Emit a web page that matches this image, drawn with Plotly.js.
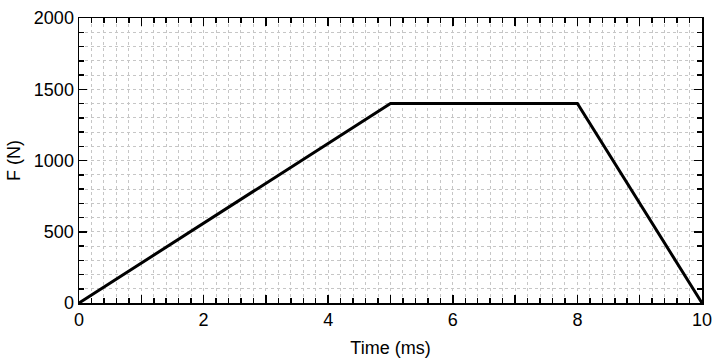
<!DOCTYPE html>
<html>
<head>
<meta charset="utf-8">
<script src="https://cdn.plot.ly/plotly-3.0.1.min.js"></script>
<style>html,body{margin:0;padding:0;background:#fff;}#chart{width:720px;height:360px;}</style>
</head>
<body>
<div id="chart"></div>
<script>
const timeMs = [0, 5, 8, 10];
const forceN = [0, 1400, 1400, 0];
const xTickVals = [0, 1, 2, 3, 4, 5, 6, 7, 8, 9, 10];
const xTickText = ['0', '', '2', '', '4', '', '6', '', '8', '', '10'];
const yTickVals = [0, 500, 1000, 1500, 2000];
const yTickText = ['0', '500', '1000', '1500', '2000'];

const font = {family: 'Liberation Sans, Arial, sans-serif', size: 18, color: '#000'};
const gridStyle = {gridcolor: '#c6c6c6', griddash: 'dot', gridwidth: 1};

const trace = {
  x: timeMs, y: forceN, type: 'scatter', mode: 'lines',
  line: {color: '#000', width: 3}, hoverinfo: 'none'
};

const layout = {
  width: 720, height: 360,
  margin: {l: 79, r: 18, t: 18, b: 57},
  paper_bgcolor: '#fff', plot_bgcolor: '#fff',
  showlegend: false,
  font: font,
  xaxis: Object.assign({
    range: [0, 10], tickmode: 'array', tickvals: xTickVals, ticktext: xTickText,
    ticks: 'inside', ticklen: 8, tickwidth: 1.5, tickcolor: '#000',
    showline: true, linecolor: '#000', linewidth: 1.5, mirror: 'ticks',
    zeroline: false, showgrid: true,
    title: {text: 'Time (ms)', font: font, standoff: 12},
    minor: Object.assign({dtick: 0.2, tick0: 0, ticks: 'inside', ticklen: 5, tickwidth: 1.5, tickcolor: '#000', showgrid: true}, gridStyle)
  }, gridStyle),
  yaxis: Object.assign({
    range: [0, 2000], tickmode: 'array', tickvals: yTickVals, ticktext: yTickText,
    ticks: 'inside', ticklen: 8, tickwidth: 1.5, tickcolor: '#000',
    showline: true, linecolor: '#000', linewidth: 1.5, mirror: 'ticks',
    zeroline: false, showgrid: true,
    title: {text: 'F (N)', font: font, standoff: 8},
    minor: Object.assign({dtick: 100, tick0: 0, ticks: 'inside', ticklen: 5, tickwidth: 1.5, tickcolor: '#000', showgrid: true}, gridStyle)
  }, gridStyle)
};

Plotly.newPlot('chart', [trace], layout, {displayModeBar: false, staticPlot: true});
</script>
</body>
</html>
